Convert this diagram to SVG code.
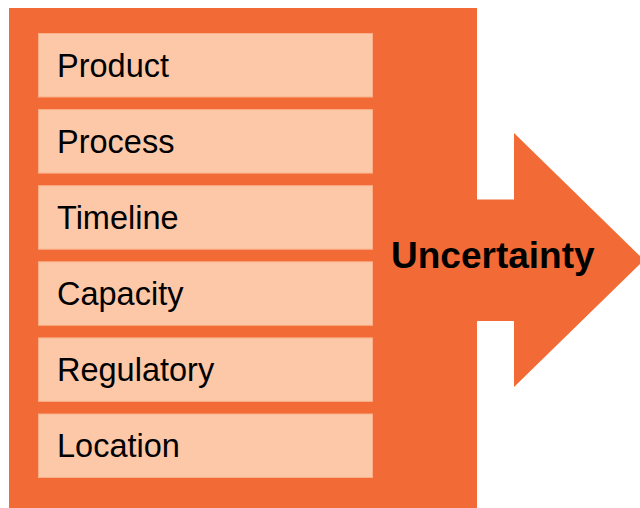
<svg xmlns="http://www.w3.org/2000/svg" width="640" height="508" viewBox="0 0 640 508">
<style>
.box{fill:#FCC8A8;stroke:#F9AF88;stroke-width:1}
.lbl{font-family:"Liberation Sans",Arial,sans-serif;font-size:32.5px;fill:#000}
.big{font-family:"Liberation Sans",Arial,sans-serif;font-size:37px;font-weight:bold;fill:#000}
</style>
<rect width="640" height="508" fill="#fff"/>
<g id="arrow">
<path d="M9,8 H477 V199.5 H514 V133 L644,260 L514,387 V321 H477 V510 H9 Z" fill="#F26B36"/>
<text class="big" x="391" y="268">Uncertainty</text>
</g>
<g id="product"><rect class="box" x="38.5" y="33.5" width="334" height="63.5"/><text class="lbl" x="57" y="76.5">Product</text></g>
<g id="process"><rect class="box" x="38.5" y="109.6" width="334" height="63.5"/><text class="lbl" x="57" y="152.6">Process</text></g>
<g id="timeline"><rect class="box" x="38.5" y="185.7" width="334" height="63.5"/><text class="lbl" x="57" y="228.7">Timeline</text></g>
<g id="capacity"><rect class="box" x="38.5" y="261.8" width="334" height="63.5"/><text class="lbl" x="57" y="304.8">Capacity</text></g>
<g id="regulatory"><rect class="box" x="38.5" y="337.9" width="334" height="63.5"/><text class="lbl" x="57" y="380.9">Regulatory</text></g>
<g id="location"><rect class="box" x="38.5" y="414" width="334" height="63.5"/><text class="lbl" x="57" y="457">Location</text></g>
<g id="connectors"></g>
</svg>
